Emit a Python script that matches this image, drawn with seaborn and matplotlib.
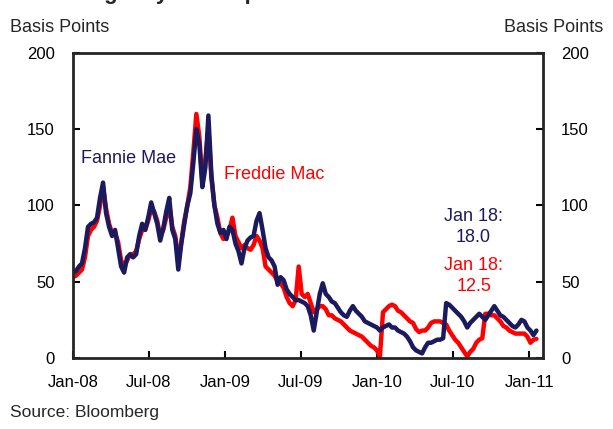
import numpy as np
import pandas as pd
import seaborn as sns
import matplotlib
matplotlib.use("Agg")
import matplotlib.pyplot as plt
import matplotlib.dates as mdates

# spreads in basis points, roughly weekly readings, Jan 2008 .. Jan 18 2011
fannie = [56, 57, 60, 62, 72, 86, 88, 89, 92, 105,
          115, 95, 86, 80, 84, 72, 60, 56, 66, 68,
          66, 68, 80, 88, 84, 92, 102, 95, 88, 77,
          85, 96, 105, 84, 78, 58, 75, 88, 100, 108,
          128, 150, 140, 112, 125, 159, 120, 100, 88, 82,
          84, 78, 86, 84, 75, 70, 62, 72, 77, 79,
          80, 90, 95, 84, 72, 66, 64, 60, 48, 53,
          51, 45, 42, 40, 38, 38, 37, 36, 34, 28,
          18, 30, 42, 49, 42, 40, 37, 36, 33, 30,
          28, 27, 31, 34, 31, 29, 27, 24, 23, 22,
          21, 20, 18, 20, 21, 22, 20, 20, 18, 17,
          16, 14, 11, 7, 5, 4, 3, 7, 10, 10,
          11, 12, 12, 13, 36, 35, 33, 31, 29, 27,
          24, 20, 23, 25, 27, 29, 27, 25, 28, 31,
          34, 31, 28, 27, 25, 23, 21, 20, 22, 25,
          24, 20, 18, 15, 18]

freddie = [53, 54, 56, 58, 66, 80, 84, 86, 90, 100,
           112, 98, 88, 82, 82, 76, 64, 60, 64, 68,
           68, 70, 78, 84, 84, 90, 98, 96, 90, 80,
           84, 92, 100, 86, 80, 64, 76, 90, 100, 112,
           135, 160, 145, 115, 130, 150, 118, 100, 92, 82,
           78, 80, 84, 92, 80, 76, 72, 74, 72, 71,
           74, 80, 77, 72, 60, 58, 56, 54, 50, 49,
           46, 40, 36, 34, 38, 60, 42, 40, 42, 36,
           30, 32, 34, 34, 32, 28, 28, 26, 25, 24,
           22, 20, 18, 17, 16, 15, 14, 12, 10, 8,
           7, 5, 1, 30, 32, 34, 35, 34, 31, 30,
           28, 26, 24, 23, 19, 17, 18, 18, 20, 23,
           24, 24, 24, 23, 22, 18, 15, 12, 10, 7,
           4, 1, 4, 6, 10, 12, 13, 29, 29, 28,
           28, 26, 24, 21, 20, 18, 17, 16, 16, 16,
           16, 14, 10, 12, 12.5]

dates = pd.date_range("2008-01-01", "2011-01-18", periods=len(fannie))

df = pd.concat([
    pd.DataFrame({"date": dates, "spread": freddie, "issuer": "Freddie Mac"}),
    pd.DataFrame({"date": dates, "spread": fannie, "issuer": "Fannie Mae"}),
])

navy = "#1c1a5e"
red = "#ff0000"

sns.set_style("ticks")
plt.rcParams["font.family"] = ["Liberation Sans", "DejaVu Sans"]

fig = plt.figure(figsize=(6.13, 4.29), dpi=100)
ax = fig.add_axes([0.119, 0.1655, 0.767, 0.711])

sns.lineplot(data=df, x="date", y="spread", hue="issuer",
             hue_order=["Freddie Mac", "Fannie Mae"],
             palette={"Freddie Mac": red, "Fannie Mae": navy},
             linewidth=3.2, legend=False, ax=ax)

ax.set_xlim(pd.Timestamp("2008-01-01"), pd.Timestamp("2011-02-03"))
ax.set_ylim(0, 200)
ax.set_yticks([0, 50, 100, 150, 200])
ax.xaxis.set_major_locator(mdates.MonthLocator(bymonth=[1, 7]))
ax.xaxis.set_major_formatter(mdates.DateFormatter("%b-%y"))
ax.set_xlabel("")
ax.set_ylabel("")

for s in ax.spines.values():
    s.set_visible(True)
    s.set_linewidth(2)
ax.tick_params(axis="both", direction="in", length=5, width=1.5,
               labelsize=12, colors="black")
ax.tick_params(axis="y", right=True, labelright=True, pad=13)
ax.tick_params(axis="x", pad=12)

fig.text(10 / 613, 1 - 27 / 429, "Basis Points", fontsize=13, va="center", ha="left")
fig.text(603 / 613, 1 - 27 / 429, "Basis Points", fontsize=13, va="center", ha="right")
fig.text(10 / 613, 1 - 412 / 429, "Source: Bloomberg", fontsize=12.5, va="center", ha="left")
fig.text(88 / 613, 1 + 1 / 429, "Agency Debt Spreads", fontsize=16, fontweight="bold",
         va="baseline", ha="left")

ax.text(pd.Timestamp("2008-01-20"), 131, "Fannie Mae", color=navy, fontsize=13, va="center")
ax.text(pd.Timestamp("2008-12-28"), 120, "Freddie Mac", color=red, fontsize=13, va="center")
ax.text(pd.Timestamp("2010-08-20"), 86, "Jan 18:\n18.0", color=navy, fontsize=13,
        va="center", ha="center", linespacing=1.3)
ax.text(pd.Timestamp("2010-08-20"), 54, "Jan 18:\n12.5", color=red, fontsize=13,
        va="center", ha="center", linespacing=1.3)

fig.savefig("out.png", dpi=100)
